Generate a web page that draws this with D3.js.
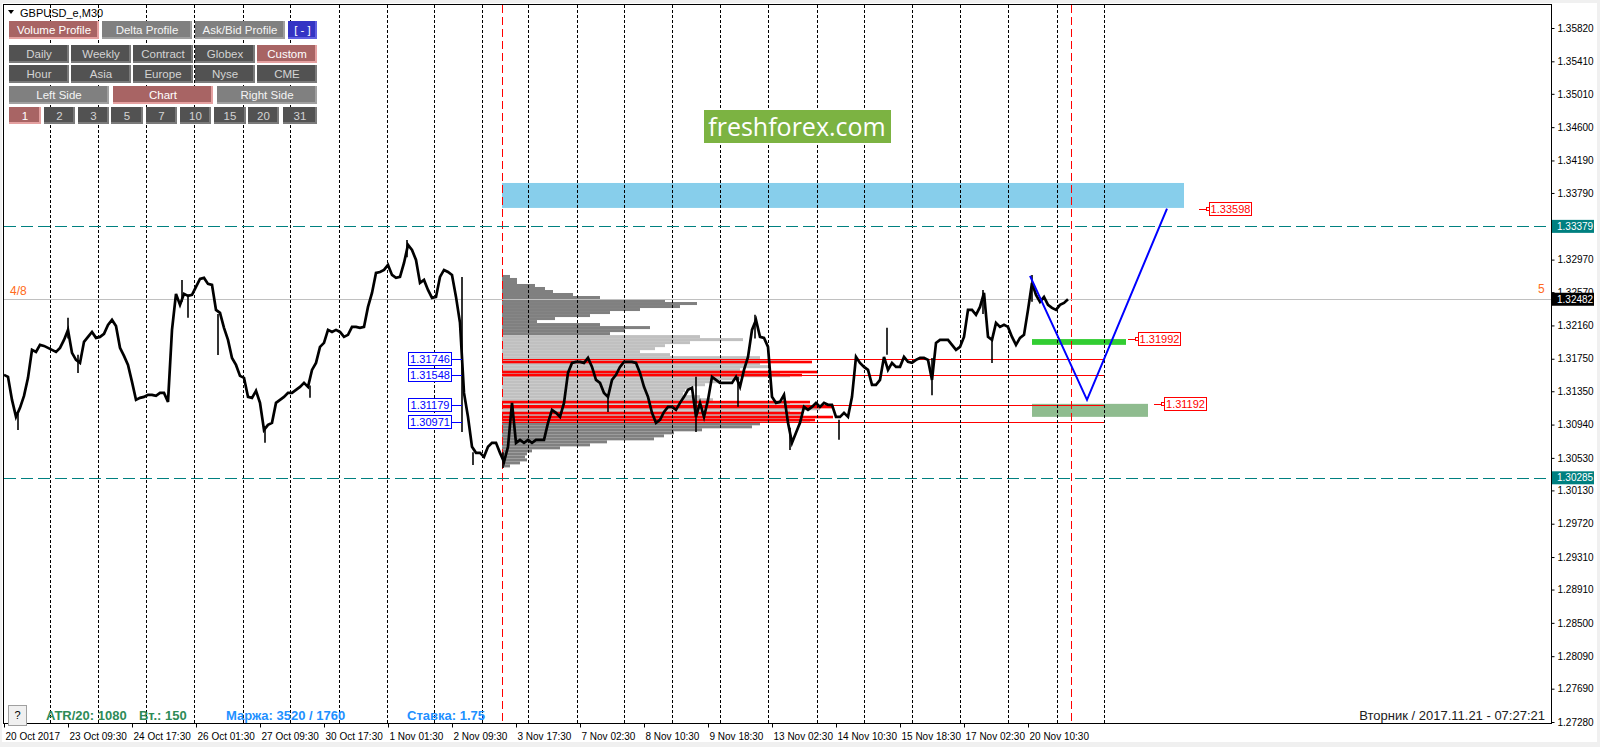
<!DOCTYPE html>
<html>
<head>
<meta charset="utf-8">
<script src="https://cdn.jsdelivr.net/npm/d3@7"></script>
<style>
body { margin: 0; background: #fff; }
svg { display: block; font-family: "Liberation Sans", Arial, sans-serif; }
</style>
</head>
<body>
<script>
const width = 1600;
const height = 747;

// M30 closes, one value every 4 bars, starting 20 Oct 2017
const barStep = 4;
const closes = [
    1.31552,1.31527,1.31244,1.31035,1.31146,1.31293,1.31515,1.31859,1.31834,1.31921,
    1.31908,1.31884,1.31859,1.31834,1.31884,1.31982,1.32105,1.31822,1.31736,1.31699,
    1.31958,1.32019,1.32080,1.32007,1.32019,1.32056,1.32167,1.32228,1.32154,1.31884,
    1.31785,1.31674,1.31466,1.31244,1.31269,1.31281,1.31306,1.31306,1.31293,1.31330,
    1.31330,1.31219,1.32105,1.32548,1.32413,1.32548,1.32523,1.32536,1.32634,1.32733,
    1.32745,1.32671,1.32659,1.32351,1.32314,1.32130,1.31982,1.31760,1.31674,1.31539,
    1.31515,1.31281,1.31269,1.31355,1.31207,1.30874,1.30937,
    1.30961,1.31207,1.31244,1.31281,1.31330,1.31330,1.31367,1.31404,1.31453,1.31404,
    1.31613,1.31699,1.31896,1.31945,1.32105,1.32080,1.32105,1.32080,1.32019,1.32044,
    1.32142,1.32142,1.32130,1.32142,1.32388,1.32560,1.32806,1.32818,1.32843,1.32904,
    1.32781,1.32745,1.32757,1.32929,1.33151,1.33089,1.32966,1.32683,1.32720,1.32597,
    1.32499,1.32511,1.32757,1.32843,1.32818,1.32781,1.32511,1.32191,1.31330,1.31035,
    1.30666,1.30592,1.30592,1.30543,1.30666,1.30715,1.30715,1.30592,1.30481,1.30666,
    1.31207,1.30715,1.30752,1.30715,1.30752,1.30715,1.30752,
    1.30752,1.30752,1.30961,1.31121,1.31084,1.31035,1.31207,1.31576,1.31699,1.31711,
    1.31711,1.31699,1.31760,1.31650,1.31490,1.31453,1.31330,1.31281,1.31490,1.31552,
    1.31650,1.31711,1.31711,1.31711,1.31699,1.31576,1.31404,1.31281,1.31084,1.30961,
    1.30998,1.31096,1.31158,1.31158,1.31121,1.31207,1.31281,1.31367,1.31392,1.31035,
    1.31207,1.31035,1.31244,1.31527,1.31490,1.31453,1.31453,1.31453,1.31453,1.31527,
    1.31404,1.31613,1.31773,1.32105,1.32228,1.32019,1.32007,1.31896,1.31281,1.31207,
    1.31219,1.31306,1.30961,1.30715,1.30838,1.30961,1.31158,1.31121,
    1.31158,1.31207,1.31158,1.31207,1.31183,1.31183,1.31035,1.31035,1.31084,1.31035,
    1.31281,1.31773,1.31699,1.31650,1.31613,1.31429,1.31429,1.31490,1.31773,1.31613,
    1.31699,1.31650,1.31650,1.31773,1.31711,1.31699,1.31736,1.31760,1.31760,1.31736,
    1.31490,1.31945,1.31982,1.31982,1.31982,1.31921,1.31859,1.31896,1.32019,1.32351,
    1.32351,1.32290,1.32388,1.32560,1.32019,1.31982,1.32191,1.32142,1.32167,1.32142,
    1.32019,1.31921,1.32007,1.32044,1.32351,1.32683,1.32536,1.32450,1.32511,1.32413,
    1.32376,1.32351,1.32413,1.32437,1.32482
];

// long wicks: bar, high, low
const wickBars = [14, 64, 74, 178, 184, 214, 261, 306, 403, 458, 469, 499, 604, 692, 734, 751, 786, 835, 883, 928, 979, 988, 1028];
const wickHighs = [1.31070, 1.32253, 1.31800, 1.32720, 1.32540, 1.32300, 1.30900, 1.31420, 1.33211, 1.32757, 1.30600, 1.30600,
    1.31300, 1.31530, 1.31530, 1.32290, 1.30900, 1.31000, 1.32130, 1.31760, 1.32597, 1.32000, 1.32781];
const wickLows = [1.30874, 1.32000, 1.31576, 1.32450, 1.32253, 1.31797, 1.30715, 1.31269, 1.33000, 1.30850, 1.30443, 1.30407,
    1.31096, 1.30850, 1.31158, 1.32000, 1.30628, 1.30752, 1.31800, 1.31300, 1.32300, 1.31699, 1.32450];

const timeLabels = ["20 Oct 2017","23 Oct 09:30","24 Oct 17:30","26 Oct 01:30","27 Oct 09:30",
    "30 Oct 17:30","1 Nov 01:30","2 Nov 09:30","3 Nov 17:30","7 Nov 02:30","8 Nov 10:30",
    "9 Nov 18:30","13 Nov 02:30","14 Nov 10:30","15 Nov 18:30","17 Nov 02:30","20 Nov 10:30"];
const timeLabelBars = [0,64,128,192,256,320,384,448,512,576,640,704,768,832,896,960,1024];
const daySeparatorBars = [46,94,142,190,239,286,335,383,430,478,524,573,620,668,716,764,813,860,908,956,1004,1053,1100];

const priceTicks = [1.35820,1.35410,1.35010,1.34600,1.34190,1.33790,1.33380,1.32970,1.32570,1.32160,
    1.31750,1.31350,1.30940,1.30530,1.30130,1.29720,1.29310,1.28910,1.28500,1.28090,1.27690,1.27280];

// volume profile
const profileStartBar = 498;
const profileEndBar = 1067;
const profileTopPrice = 1.32781;
const profileStep = 0.00037;
const profileVolumes = [
    8,15,15,33,43,51,71,98,163,195,178,138,108,88,53,35,98,148,123,108,
    198,241,188,163,153,138,168,258,288,258,268,238,278,288,238,218,203,188,183,181,
    198,211,288,308,318,288,298,288,308,258,250,200,172,162,152,105,88,58,30,25,
    23,25,18,8
];
const valueAreaHigh = 1.32044;
const valueAreaLow = 1.30971;
const hvnPrices = [1.31711, 1.31588, 1.31550, 1.31218, 1.31157, 1.31083, 1.31034, 1.30997];
const hvnVolumes = [310, 316, 300, 308, 331, 300, 331, 313];
const keyLevels = [1.31746, 1.31548, 1.31179, 1.30971];
const keyLineEndBar = 1100;

const resistanceLevel = 1.33379;
const supportLevel = 1.30285;
const bidPrice = 1.32482;

// zones: start bar, end bar, top, bottom
const zoneColors = ["#87ceeb", "#32cd32", "#8fbc8f"];
const zoneStart = [498, 1028, 1028];
const zoneEnd = [1180, 1122, 1144];
const zoneTop = [1.33913, 1.31992, 1.31195];
const zoneBottom = [1.33606, 1.31921, 1.31035];

const forecastBars = [1026, 1083, 1163];
const forecastPrices = [1.32769, 1.31244, 1.33598];

const targetPrices = [1.33598, 1.31992, 1.31192];
const targetBars = [1195, 1124, 1150];

const svg = d3.select("body")
    .append("svg")
    .attr("width", width)
    .attr("height", height);

svg.append("rect").attr("width", width).attr("height", height).attr("fill", "#f0f0f0");
svg.append("rect").attr("x", 2).attr("y", 3).attr("width", 1595).attr("height", 739).attr("fill", "#fff");

const plot = {left: 4, top: 5, right: 1551, bottom: 723};

const x = d3.scaleLinear().domain([0, 1547]).range([4, 1551]);
const y = d3.scaleLinear().domain([1.27280, 1.35820]).range([722, 28]);

svg.append("clipPath").attr("id", "clip")
    .append("rect")
    .attr("x", plot.left).attr("y", plot.top)
    .attr("width", plot.right - plot.left).attr("height", plot.bottom - plot.top);

const canvas = svg.append("g").attr("clip-path", "url(#clip)");

// zones
canvas.selectAll("rect.zone")
    .data(zoneColors)
    .enter()
    .append("rect")
    .attr("class", "zone")
    .attr("x", (d, i) => x(zoneStart[i]))
    .attr("width", (d, i) => x(zoneEnd[i]) - x(zoneStart[i]))
    .attr("y", (d, i) => y(zoneTop[i]))
    .attr("height", (d, i) => y(zoneBottom[i]) - y(zoneTop[i]))
    .style("fill", d => d);

// volume profile
const vol = d3.scaleLinear().domain([0, 100]).range([0, 100]);
const rowH = y(0) - y(profileStep);

canvas.selectAll("rect.prof")
    .data(profileVolumes)
    .enter()
    .append("rect")
    .attr("class", "prof")
    .attr("x", x(profileStartBar))
    .attr("y", (d, i) => y(profileTopPrice - i * profileStep))
    .attr("width", d => vol(d))
    .attr("height", rowH)
    .style("fill", (d, i) => {
        const p = profileTopPrice - i * profileStep;
        return (p <= valueAreaHigh && p >= valueAreaLow) ? "#c0c0c0" : "#808080";
    });

canvas.selectAll("rect.hvn")
    .data(hvnPrices)
    .enter()
    .append("rect")
    .attr("class", "hvn")
    .attr("x", x(profileStartBar))
    .attr("y", d => y(d) - 1.2)
    .attr("width", (d, i) => vol(hvnVolumes[i]))
    .attr("height", 2.6)
    .style("fill", "#ff0000");

canvas.selectAll("line.key")
    .data(keyLevels)
    .enter()
    .append("line")
    .attr("x1", x(profileStartBar)).attr("x2", x(keyLineEndBar))
    .attr("y1", d => Math.round(y(d)) + 0.5).attr("y2", d => Math.round(y(d)) + 0.5)
    .style("stroke", "#ff0000");

// day separators
canvas.selectAll("line.sep")
    .data(daySeparatorBars)
    .enter()
    .append("line")
    .attr("x1", d => Math.round(x(d)) + 0.5).attr("x2", d => Math.round(x(d)) + 0.5)
    .attr("y1", plot.top).attr("y2", plot.bottom)
    .style("stroke", "#000")
    .style("stroke-dasharray", "3,2");

canvas.selectAll("line.vline")
    .data([profileStartBar, profileEndBar])
    .enter()
    .append("line")
    .attr("x1", d => Math.round(x(d)) + 0.5).attr("x2", d => Math.round(x(d)) + 0.5)
    .attr("y1", plot.top).attr("y2", plot.bottom)
    .style("stroke", "#ff0000")
    .style("stroke-dasharray", "8,4");

// horizontal levels
canvas.append("line")
    .attr("x1", plot.left).attr("x2", plot.right)
    .attr("y1", Math.round(y(bidPrice)) + 0.5).attr("y2", Math.round(y(bidPrice)) + 0.5)
    .style("stroke", "#c0c0c0");

canvas.selectAll("line.sr")
    .data([resistanceLevel, supportLevel])
    .enter()
    .append("line")
    .attr("x1", plot.left).attr("x2", plot.right)
    .attr("y1", d => Math.round(y(d)) + 0.5).attr("y2", d => Math.round(y(d)) + 0.5)
    .style("stroke", "#008080")
    .style("stroke-dasharray", "12,5");

// price
const priceLine = d3.line()
    .x((d, i) => x(i * barStep))
    .y(d => y(d));

canvas.append("path")
    .datum(closes)
    .attr("d", priceLine)
    .style("fill", "none")
    .style("stroke", "#000")
    .style("stroke-width", 2.7)
    .style("stroke-linejoin", "miter");

canvas.selectAll("line.wick")
    .data(wickBars)
    .enter()
    .append("line")
    .attr("x1", d => x(d)).attr("x2", d => x(d))
    .attr("y1", (d, i) => y(wickHighs[i])).attr("y2", (d, i) => y(wickLows[i]))
    .style("stroke", "#000")
    .style("stroke-width", 1.6);

// forecast
canvas.append("path")
    .datum(forecastBars)
    .attr("d", d3.line().x(d => x(d)).y((d, i) => y(forecastPrices[i])))
    .style("fill", "none")
    .style("stroke", "#0000ff")
    .style("stroke-width", 2);

// key level labels (left of the drop)
const keyLabels = svg.append("g");
keyLevels.forEach(p => {
    const cy = Math.round(y(p)) + 0.5;
    keyLabels.append("line")
        .attr("x1", x(448)).attr("x2", x(458))
        .attr("y1", cy).attr("y2", cy)
        .style("stroke", "#0000ff");
    keyLabels.append("rect")
        .attr("x", x(448) - 43.5).attr("y", cy - 7)
        .attr("width", 43).attr("height", 13)
        .style("fill", "#fff").style("stroke", "#0000ff");
    keyLabels.append("text")
        .attr("x", x(448) - 22).attr("y", cy)
        .attr("dy", "0.35em")
        .attr("text-anchor", "middle")
        .style("font-size", "11px")
        .style("fill", "#0000ff")
        .text(p.toFixed(5));
});

// target labels
const targets = svg.append("g");
targetPrices.forEach((p, i) => {
    const cy = Math.round(y(p)) + 0.5;
    const x0 = x(targetBars[i]);
    targets.append("line")
        .attr("x1", x0).attr("x2", x0 + 10)
        .attr("y1", cy).attr("y2", cy)
        .style("stroke", "#ff0000");
    targets.append("rect")
        .attr("x", x0 + 7.5).attr("y", cy - 2)
        .attr("width", 3).attr("height", 3)
        .style("fill", "#fff").style("stroke", "#ff0000");
    targets.append("rect")
        .attr("x", x0 + 10.5).attr("y", cy - 7)
        .attr("width", 42).attr("height", 13)
        .style("fill", "#fff").style("stroke", "#ff0000");
    targets.append("text")
        .attr("x", x0 + 31.5).attr("y", cy)
        .attr("dy", "0.35em")
        .attr("text-anchor", "middle")
        .style("font-size", "11px")
        .style("fill", "#ff0000")
        .text(p.toFixed(5));
});

// plot frame
svg.append("rect")
    .attr("x", 3.5).attr("y", 4.5)
    .attr("width", plot.right - 3).attr("height", plot.bottom - 4)
    .style("fill", "none").style("stroke", "#000");

// price axis
const yAxis = svg.append("g")
    .attr("transform", `translate(${plot.right + 0.5},0)`)
    .call(d3.axisRight(y).tickValues(priceTicks).tickSize(3).tickPadding(3).tickFormat(d3.format(".5f")));
yAxis.select(".domain").remove();
yAxis.selectAll("text").style("font-size", "10px").style("font-family", "Liberation Sans, Arial, sans-serif").style("fill", "#000");

const marks = [[resistanceLevel, "#008080"], [bidPrice, "#000000"], [supportLevel, "#008080"]];
marks.forEach(m => {
    const cy = y(m[0]);
    svg.append("rect")
        .attr("x", plot.right + 1).attr("y", cy - 6.5)
        .attr("width", 42).attr("height", 13)
        .style("fill", m[1]);
    svg.append("text")
        .attr("x", plot.right + 6).attr("y", cy)
        .attr("dy", "0.35em")
        .style("font-size", "10px")
        .style("fill", "#fff")
        .text(m[0].toFixed(5));
});

// time axis
const xAxis = svg.append("g")
    .attr("transform", `translate(0,${plot.bottom + 0.5})`)
    .call(d3.axisBottom(x).tickValues(timeLabelBars).tickSize(4).tickFormat((d, i) => timeLabels[i]));
xAxis.select(".domain").remove();
xAxis.selectAll("text")
    .attr("text-anchor", "start")
    .attr("x", 1)
    .attr("y", 9)
    .style("font-size", "10px")
    .style("font-family", "Liberation Sans, Arial, sans-serif")
    .style("fill", "#000");

// murrey labels
svg.append("text").attr("x", 10).attr("y", y(bidPrice) - 4)
    .style("font-size", "12px").style("fill", "#ff6a20").text("4/8");
svg.append("text").attr("x", 1538).attr("y", y(bidPrice) - 6)
    .style("font-size", "12px").style("fill", "#ff6a20").text("5");

// symbol title
svg.append("path").attr("d", "M8,10 L14,10 L11,14 Z").style("fill", "#000");
svg.append("text").attr("x", 20).attr("y", 13).attr("dy", "0.35em")
    .style("font-size", "11px").style("fill", "#000").text("GBPUSD_e,M30");

// panel buttons
const buttonRows = [
    ["Volume Profile", "Delta Profile", "Ask/Bid Profile", "[ - ]"],
    ["Daily", "Weekly", "Contract", "Globex", "Custom"],
    ["Hour", "Asia", "Europe", "Nyse", "CME"],
    ["Left Side", "Chart", "Right Side"],
    ["1", "2", "3", "5", "7", "10", "15", "20", "31"]
];
const activeButtons = ["Volume Profile", "Custom", "Chart", "1"];
const rowY = [21, 45, 65, 86, 107];
const rowH2 = [18, 18, 18, 18, 17];
const rowX = [[9, 102, 195, 288], [9, 71, 133, 195, 257], [9, 71, 133, 195, 257], [9, 113, 217],
    [9, 44, 78, 111, 146, 180, 214, 248, 283]];
const rowW = [[90, 90, 90, 29], [60, 60, 60, 60, 60], [60, 60, 60, 60, 60], [100, 100, 100],
    [32, 31, 31, 32, 31, 31, 32, 31, 34]];

const panel = svg.append("g");
buttonRows.forEach((row, r) => {
    row.forEach((label, j) => {
        const bx = rowX[r][j], by = rowY[r], bw = rowW[r][j], bh = rowH2[r];
        let fill = "#525252", edge = "#7a7a7a", txt = "#d4d4d4";
        if (r === 0 || r === 3) { fill = "#808080"; edge = "#a0a0a0"; txt = "#f4f4f4"; }
        if (label === "[ - ]") { fill = "#3434c4"; edge = "#6060e0"; txt = "#fff"; }
        if (activeButtons.includes(label)) { fill = "#a86464"; edge = "#e4a0a0"; txt = "#fff"; }
        panel.append("rect").attr("x", bx).attr("y", by).attr("width", bw).attr("height", bh)
            .style("fill", edge);
        panel.append("rect").attr("x", bx).attr("y", by).attr("width", bw - 2).attr("height", bh - 2)
            .style("fill", fill);
        panel.append("text")
            .attr("x", bx + bw / 2).attr("y", by + bh / 2)
            .attr("dy", "0.35em")
            .attr("text-anchor", "middle")
            .style("font-size", "11.5px")
            .style("fill", txt)
            .text(label);
    });
});

// watermark
svg.append("rect").attr("x", 704).attr("y", 110).attr("width", 187).attr("height", 33).style("fill", "#7cb342");
svg.append("text").attr("x", 797).attr("y", 127).attr("dy", "0.35em")
    .attr("text-anchor", "middle")
    .style("font-family", "Open Sans, sans-serif")
    .style("font-size", "25px")
    .style("fill", "#fff")
    .text("freshforex.com");

// status line
svg.append("rect").attr("x", 8.5).attr("y", 705.5).attr("width", 18).attr("height", 20)
    .style("fill", "#f0f0f0").style("stroke", "#a0a0a0");
svg.append("text").attr("x", 17.5).attr("y", 715).attr("dy", "0.35em").attr("text-anchor", "middle")
    .style("font-size", "11px").style("fill", "#000").text("?");

const statusTexts = ["ATR/20: 1080", "Вт.: 150", "Маржа: 3520 / 1760", "Ставка: 1.75"];
const statusX = [46, 139, 226, 407];
const statusColors = ["#2e8b57", "#2e8b57", "#1e90ff", "#1e90ff"];
svg.selectAll("text.status")
    .data(statusTexts)
    .enter()
    .append("text")
    .attr("x", (d, i) => statusX[i])
    .attr("y", 715)
    .attr("dy", "0.35em")
    .style("font-size", "13px")
    .style("font-weight", "bold")
    .style("fill", (d, i) => statusColors[i])
    .text(d => d);

svg.append("text").attr("x", 1545).attr("y", 715).attr("dy", "0.35em")
    .attr("text-anchor", "end")
    .style("font-size", "13px")
    .style("fill", "#202020")
    .text("Вторник  /  2017.11.21  -  07:27:21");
</script>
</body>
</html>
